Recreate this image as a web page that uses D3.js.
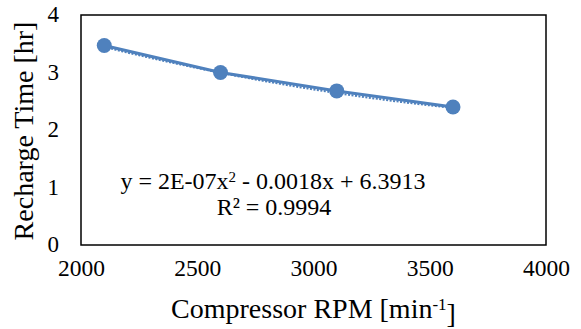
<!DOCTYPE html>
<html>
<head>
<meta charset="utf-8">
<script src="https://cdn.jsdelivr.net/npm/d3@7"></script>
</head>
<body style="margin:0; background:#fff">
<div class="chart"></div>
<script>
var rpm = [2100, 2600, 3100, 3600];
var rechargeTime = [3.47, 3.00, 2.68, 2.40];
var xTicks = [2000, 2500, 3000, 3500, 4000];
var yTicks = [0, 1, 2, 3, 4];
var equationText = ["y = 2E-07x", "2", " - 0.0018x + 6.3913"];
var r2Text = "R² = 0.9994";

var width = 581;
var height = 329;
var margin = {left: 81, top: 15, right: 35, bottom: 84};
var blue = "#4f81bd";
var serif = "'Liberation Serif'";

var svg = d3.select(".chart")
.append("svg")
.attr("width", width)
.attr("height", height)
.attr("font-family", serif);

var x = d3.scaleLinear()
.domain([2000, 4000])
.range([margin.left, width - margin.right]);

var y = d3.scaleLinear()
.domain([0, 4])
.range([height - margin.bottom, margin.top]);

// quadratic least squares fit for the trendline
function quadFit(xs, ys) {
  var s = [0, 0, 0, 0, 0], t = [0, 0, 0];
  xs.forEach(function(xv, i) {
    var u = (xv - 2850) / 1000;
    for (var k = 0; k < 5; k++) s[k] += Math.pow(u, k);
    for (var k = 0; k < 3; k++) t[k] += ys[i] * Math.pow(u, k);
  });
  var m = [[s[0], s[1], s[2], t[0]], [s[1], s[2], s[3], t[1]], [s[2], s[3], s[4], t[2]]];
  for (var i = 0; i < 3; i++) {
    for (var j = i + 1; j < 3; j++) {
      var f = m[j][i] / m[i][i];
      for (var k = i; k < 4; k++) m[j][k] -= f * m[i][k];
    }
  }
  var c = [0, 0, 0];
  for (var i = 2; i >= 0; i--) {
    var v = m[i][3];
    for (var k = i + 1; k < 3; k++) v -= m[i][k] * c[k];
    c[i] = v / m[i][i];
  }
  return function(xv) { var u = (xv - 2850) / 1000; return c[0] + c[1] * u + c[2] * u * u; };
}
var fit = quadFit(rpm, rechargeTime);
var trendX = d3.range(rpm[0], rpm[rpm.length - 1] + 1, 25);

// plot frame
svg.append("rect")
.attr("x", x(2000))
.attr("y", y(4))
.attr("width", x(4000) - x(2000))
.attr("height", y(0) - y(4))
.style("fill", "none")
.style("stroke", "#000")
.style("stroke-width", 1.5);

// axes (labels only)
var xAxis = svg.append("g")
.attr("transform", "translate(0," + (y(0) + 14) + ")")
.call(d3.axisBottom(x).tickValues(xTicks).tickFormat(d3.format("d")).tickSize(0).tickPadding(0));
xAxis.select(".domain").remove();
xAxis.attr("font-family", serif);
xAxis.selectAll("text")
.attr("font-family", serif)
.attr("font-size", 23.5)
.attr("fill", "#000")
.attr("dy", "0.72em");

var yAxis = svg.append("g")
.attr("transform", "translate(" + (x(2000) - 22) + ",0)")
.call(d3.axisLeft(y).tickValues(yTicks).tickFormat(d3.format("d")).tickSize(0).tickPadding(0));
yAxis.select(".domain").remove();
yAxis.attr("font-family", serif);
yAxis.selectAll("text")
.attr("font-family", serif)
.attr("font-size", 23)
.attr("fill", "#000")
.attr("dy", "0.3em");

// trendline
svg.append("path")
.datum(trendX)
.attr("d", d3.line().x(function(d) { return x(d); }).y(function(d) { return y(fit(d)) + 1.2; }))
.style("fill", "none")
.style("stroke", blue)
.style("stroke-width", 2)
.style("stroke-dasharray", "2,1.5");

// series line
svg.append("path")
.datum(rpm)
.attr("d", d3.line().x(function(d) { return x(d); }).y(function(d, i) { return y(rechargeTime[i]); }))
.style("fill", "none")
.style("stroke", blue)
.style("stroke-width", 3);

svg.selectAll(".pt")
.data(rpm)
.enter().append("circle")
.attr("class", "pt")
.attr("cx", function(d) { return x(d); })
.attr("cy", function(d, i) { return y(rechargeTime[i]); })
.attr("r", 7.5)
.style("fill", blue);

// equation labels
var eq = svg.append("text")
.attr("x", 273)
.attr("y", 189)
.attr("text-anchor", "middle")
.attr("font-family", serif)
.attr("font-size", 24);
eq.append("tspan").text(equationText[0]);
eq.append("tspan").attr("dy", "-0.45em").attr("font-size", 15).text(equationText[1]);
eq.append("tspan").attr("dy", "0.28em").text(equationText[2]);

svg.append("text")
.attr("x", 274)
.attr("y", 215)
.attr("text-anchor", "middle")
.attr("font-family", serif)
.attr("font-size", 24)
.text(r2Text);

// axis titles
var xt = svg.append("text")
.attr("x", x(3000))
.attr("y", 318)
.attr("text-anchor", "middle")
.attr("font-family", serif)
.attr("font-size", 28);
xt.append("tspan").text("Compressor RPM [min");
xt.append("tspan").attr("dy", "-0.45em").attr("font-size", 17).text("-1");
xt.append("tspan").attr("dy", "0.45em").text("]");

svg.append("text")
.attr("transform", "translate(33,131) rotate(-90)")
.attr("text-anchor", "middle")
.attr("font-family", serif)
.attr("font-size", 28)
.text("Recharge Time [hr]");
</script>
</body>
</html>
